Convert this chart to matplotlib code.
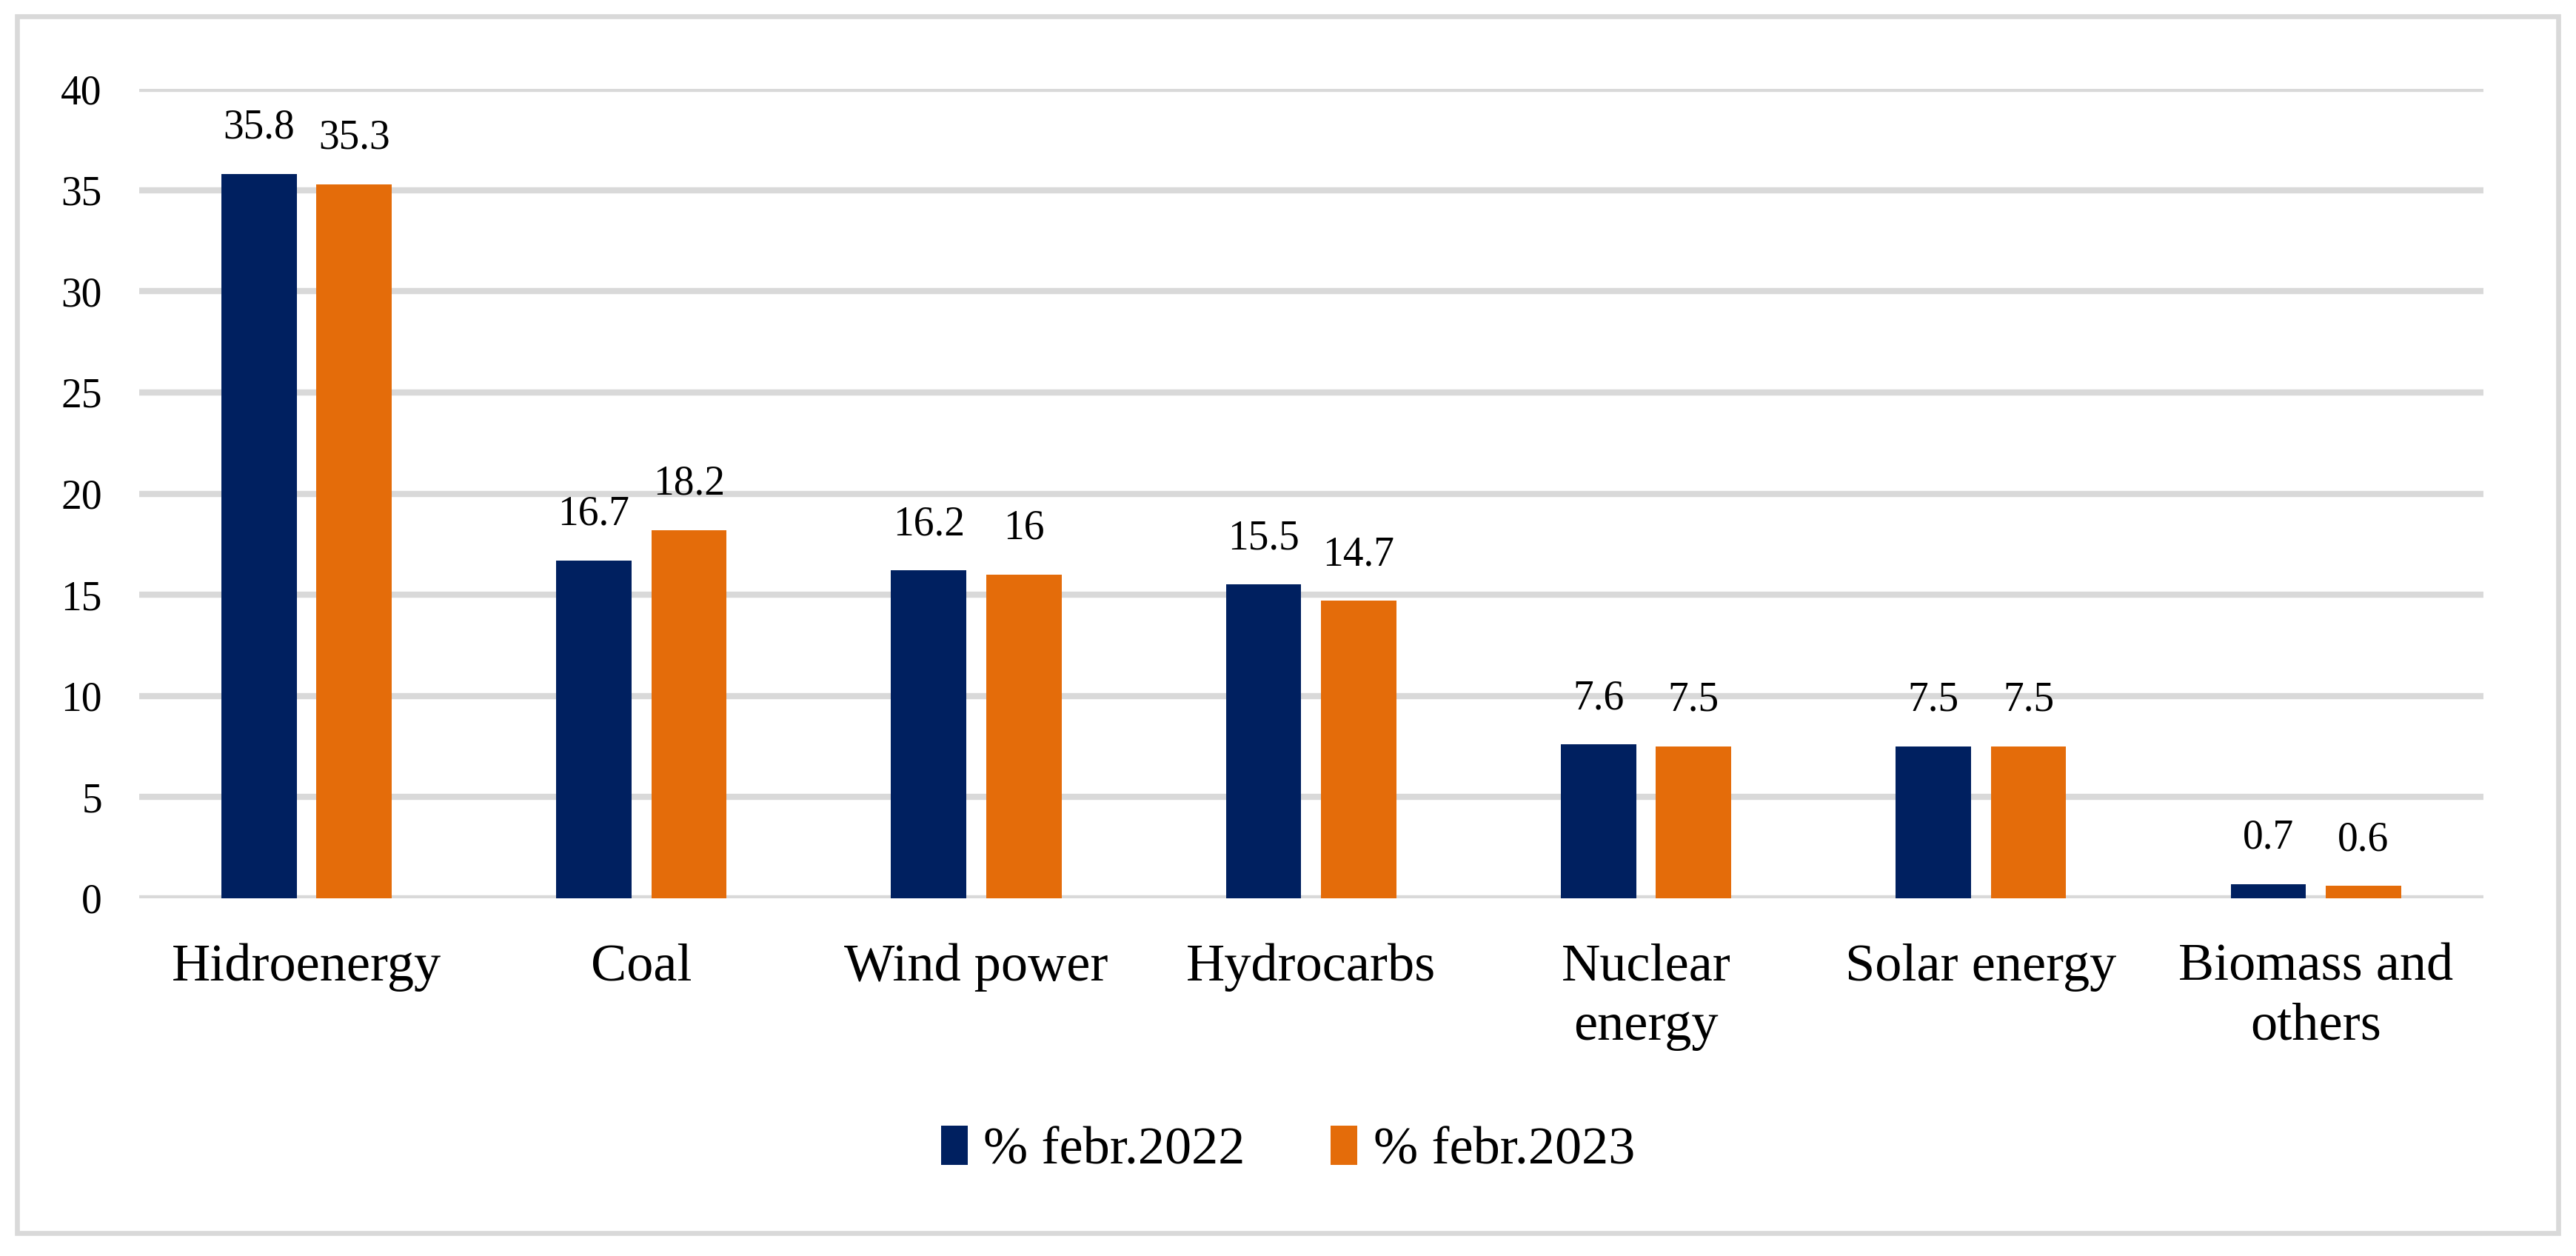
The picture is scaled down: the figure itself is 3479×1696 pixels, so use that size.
import numpy as np
import matplotlib.pyplot as plt
from matplotlib.patches import Rectangle

# data
categories = ["Hidroenergy", "Coal", "Wind power", "Hydrocarbs",
              "Nuclear\nenergy", "Solar energy", "Biomass and\nothers"]
feb_2022 = [35.8, 16.7, 16.2, 15.5, 7.6, 7.5, 0.7]
feb_2023 = [35.3, 18.2, 16, 14.7, 7.5, 7.5, 0.6]
series_names = ["% febr.2022", "% febr.2023"]

navy = "#002060"
orange = "#E46C0A"
grid_gray = "#D9D9D9"

plt.rcParams["font.family"] = ["Liberation Serif", "DejaVu Serif"]

fig = plt.figure(figsize=(17.395, 8.48), dpi=200)
ax = fig.add_axes([0.054, 0.285, 0.91, 0.644])

x = np.arange(len(categories))
bar_w = 0.225
off = 0.142

b1 = ax.bar(x - off, feb_2022, width=bar_w, color=navy, label=series_names[0], zorder=3)
b2 = ax.bar(x + off, feb_2023, width=bar_w, color=orange, label=series_names[1], zorder=3)

for bars, vals in ((b1, feb_2022), (b2, feb_2023)):
    for rect, v in zip(bars, vals):
        lbl = f"{v:g}"
        ax.annotate(lbl, (rect.get_x() + rect.get_width() / 2, rect.get_height()),
                    xytext=(0, 13), textcoords="offset points",
                    ha="center", va="bottom", fontsize=20)

ax.set_xlim(-0.5, len(categories) - 0.5)
ax.set_ylim(0, 40)
ax.set_yticks(np.arange(0, 41, 5))
ax.yaxis.grid(True, color=grid_gray, linewidth=3, zorder=0)
ax.set_axisbelow(True)
for s in ax.spines.values():
    s.set_visible(False)
ax.tick_params(axis="y", length=0, pad=18, labelsize=20)
ax.tick_params(axis="x", length=0, pad=22, labelsize=26)
ax.set_xticks(x)
ax.set_xticklabels(categories, linespacing=1.3)

leg = fig.legend(loc="center", bbox_to_anchor=(0.5, 0.084), ncol=2, frameon=False,
                 fontsize=26, handlelength=0.5, handleheight=0.75,
                 handletextpad=0.3, columnspacing=1.6)

# outer chart border
fig.patches.append(Rectangle((0.0065, 0.018), 0.9865, 0.969, transform=fig.transFigure,
                             fill=False, edgecolor=grid_gray, linewidth=2.4))

fig.savefig("out.png", dpi=200, facecolor="white")
